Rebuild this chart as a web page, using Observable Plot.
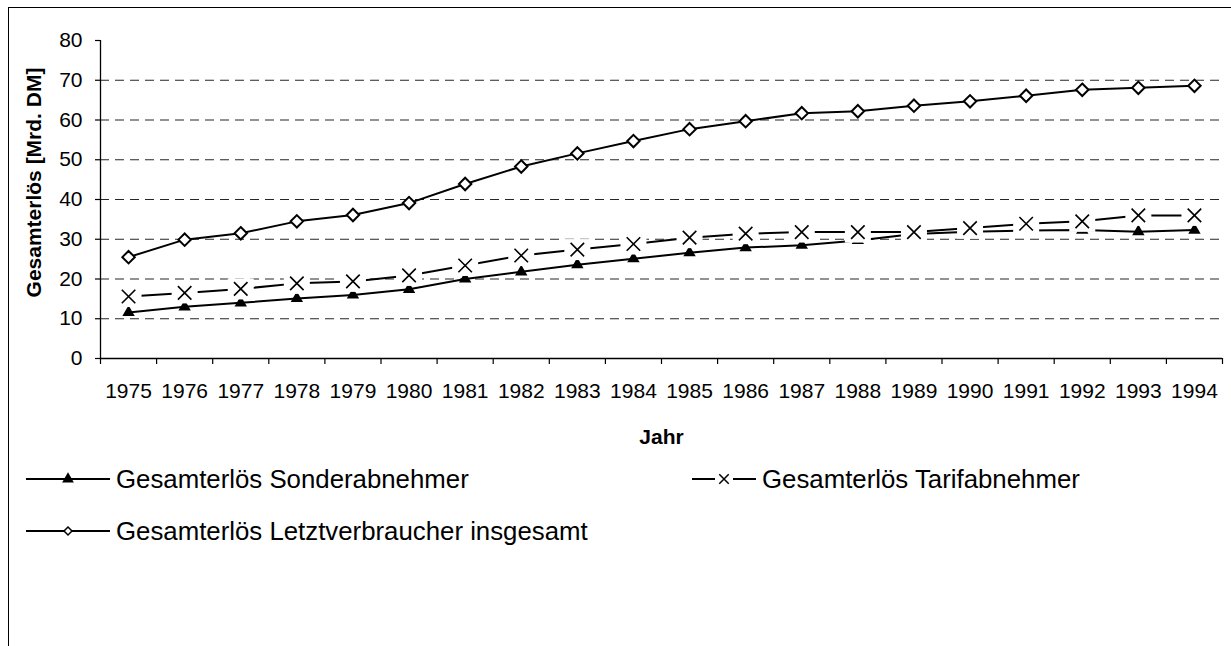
<!DOCTYPE html>
<html><head><meta charset="utf-8">
<script src="https://cdn.jsdelivr.net/npm/d3@7"></script>
<script src="https://cdn.jsdelivr.net/npm/@observablehq/plot@0.6"></script>
<style>
html,body{margin:0;padding:0;background:#fff;}
body{overflow:hidden;width:1231px;height:646px;position:relative;font-family:"Liberation Sans",Arial,sans-serif;}
#frame{position:absolute;left:8px;top:7px;width:1300px;height:800px;border:1.5px solid #000;box-sizing:border-box;z-index:5;pointer-events:none;background:transparent;}
#chart{position:absolute;left:0;top:0;}
.item{position:absolute;display:flex;align-items:center;font-size:25.8px;color:#000;white-space:nowrap;height:30px;}
.item svg{display:block;}
</style></head><body>
<div id="chart"></div>
<div id="legend"></div>
<div id="frame"></div>
<script>
const years = [1975,1976,1977,1978,1979,1980,1981,1982,1983,1984,1985,1986,1987,1988,1989,1990,1991,1992,1993,1994];
const sonder = [11.6,13.0,14.0,15.1,16.0,17.4,20.0,21.8,23.6,25.1,26.6,27.9,28.5,29.7,31.3,31.9,32.2,32.3,31.9,32.3];
const tarif  = [15.6,16.5,17.5,18.9,19.4,20.9,23.4,25.9,27.4,28.8,30.4,31.4,31.8,31.8,31.8,32.8,33.9,34.5,36.0,36.0];
const letzt  = [25.5,29.9,31.5,34.5,36.1,39.1,43.9,48.3,51.6,54.7,57.7,59.7,61.7,62.2,63.6,64.7,66.1,67.6,68.1,68.6];
const yTicks = [0,10,20,30,40,50,60,70,80];
const gridValues = [10,20,30,40,50,60,70];
const seriesNames = ["Gesamterlös Sonderabnehmer","Gesamterlös Tarifabnehmer","Gesamterlös Letztverbraucher insgesamt"];
const yLabel = "Gesamterlös [Mrd. DM]";
const xLabel = "Jahr";

const rows = vals => years.map((yr, i) => ({year: yr, value: vals[i]}));
const boundaries = years.map(y => y - 0.5).concat([years[years.length - 1] + 0.5]);
const whiteBox = {draw(ctx){ ctx.moveTo(-13,-10.5); ctx.lineTo(13,-10.5); ctx.lineTo(13,10.5); ctx.lineTo(-13,10.5); ctx.closePath(); }};
const font = '"Liberation Sans", Arial, sans-serif';

const H = 470;
const chart = Plot.plot({
  width: 1231, height: H,
  marginLeft: 100, marginRight: 9, marginTop: 40, marginBottom: H - 358,
  x: {type: "linear", domain: [boundaries[0], boundaries[boundaries.length - 1]], label: null},
  y: {domain: [0, 80], label: null},
  style: {fontFamily: font, fontSize: "21px", color: "#000", background: "transparent", overflow: "visible"},
  marks: [
    Plot.ruleY(gridValues, {stroke: "#000", strokeWidth: 1.2, strokeDasharray: "9,6", strokeOpacity: 0.85}),
    Plot.axisY({ticks: yTicks, tickSize: 5, tickPadding: 13, tickFormat: d => String(d), label: null, fontSize: 21, stroke: "#000", strokeWidth: 1.2}),
    Plot.axisX({ticks: boundaries, tickSize: 6, tickFormat: () => "", label: null, stroke: "#000", strokeWidth: 1.2}),
    Plot.axisX({ticks: years, tickSize: 0, tickPadding: 25, tickFormat: d => String(d), label: null, fontSize: 21}),
    Plot.ruleX([boundaries[0]], {stroke: "#000", strokeWidth: 1.3}),
    Plot.ruleY([0], {stroke: "#000", strokeWidth: 1.3}),
    Plot.line(rows(sonder), {x: "year", y: "value", stroke: "#000", strokeWidth: 2}),
    Plot.dot(rows(sonder), {x: "year", y: "value", symbol: "triangle", r: 4.6, fill: "#000", stroke: "none"}),
    Plot.line(rows(tarif), {x: "year", y: "value", stroke: "#000", strokeWidth: 2}),
    Plot.dot(rows(tarif), {x: "year", y: "value", symbol: whiteBox, r: 5, fill: "#fff", stroke: "none"}),
    Plot.dot(rows(tarif), {x: "year", y: "value", symbol: "times", r: 6.2, fill: "none", stroke: "#000", strokeWidth: 1.6}),
    Plot.line(rows(letzt), {x: "year", y: "value", stroke: "#000", strokeWidth: 2}),
    Plot.dot(rows(letzt), {x: "year", y: "value", symbol: "diamond2", r: 5.6, fill: "#fff", stroke: "#000", strokeWidth: 2}),
    Plot.text([yLabel], {text: d => d, frameAnchor: "left", textAnchor: "middle", lineAnchor: "middle", rotate: -90, dx: -66, dy: -17, fontWeight: "bold", fontSize: 21, fill: "#000"}),
    Plot.text([xLabel], {text: d => d, frameAnchor: "bottom", textAnchor: "middle", lineAnchor: "middle", dy: 79, fontWeight: "bold", fontSize: 21, fill: "#000"})
  ]
});
document.getElementById("chart").appendChild(chart);

// Legend
const legendSpecs = [
  {name: seriesNames[0], left: 26, top: 479, sym: d3.symbolTriangle, size: 60, fill: "#000", stroke: "none", gap: 0, w: 84},
  {name: seriesNames[1], left: 692, top: 479, sym: d3.symbolTimes, size: 60, fill: "none", stroke: "#000", gap: 9, w: 64},
  {name: seriesNames[2], left: 26, top: 531, sym: d3.symbolDiamond2, size: 40, fill: "#fff", stroke: "#000", gap: 0, w: 84}
];
const legend = document.getElementById("legend");
for (const s of legendSpecs) {
  const div = document.createElement("div");
  div.className = "item";
  div.style.left = s.left + "px";
  div.style.top = (s.top - 15) + "px";
  const svg = d3.create("svg").attr("width", s.w).attr("height", 30);
  const cx = s.w / 2;
  if (s.gap) {
    svg.append("line").attr("x1", 0).attr("x2", cx - s.gap).attr("y1", 15).attr("y2", 15).attr("stroke", "#000").attr("stroke-width", 2);
    svg.append("line").attr("x1", cx + s.gap).attr("x2", s.w).attr("y1", 15).attr("y2", 15).attr("stroke", "#000").attr("stroke-width", 2);
  } else {
    svg.append("line").attr("x1", 0).attr("x2", s.w).attr("y1", 15).attr("y2", 15).attr("stroke", "#000").attr("stroke-width", 2);
  }
  svg.append("path").attr("d", d3.symbol(s.sym, s.size)()).attr("transform", `translate(${cx},15)`)
    .attr("fill", s.fill).attr("stroke", s.stroke).attr("stroke-width", 1.5);
  div.appendChild(svg.node());
  const span = document.createElement("span");
  span.textContent = s.name;
  span.style.marginLeft = "6px";
  div.appendChild(span);
  legend.appendChild(div);
}
</script>
</body></html>
